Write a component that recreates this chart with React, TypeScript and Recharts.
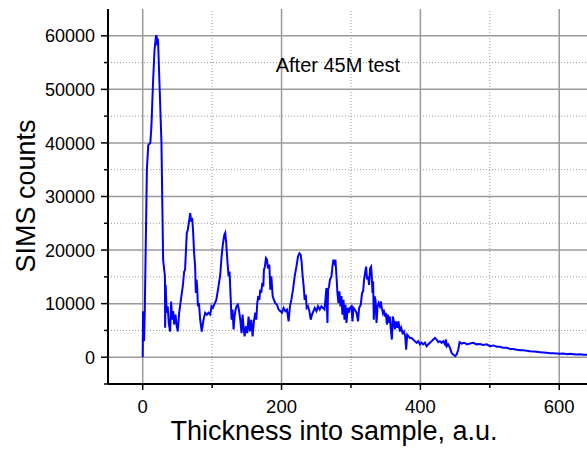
import React from 'react'
import { LineChart, Line, XAxis, YAxis, ReferenceLine } from 'recharts'

// depth profile (thickness a.u. -> SIMS counts)
const thickness = [
  0, 0.5, 2, 3, 6, 8, 11, 12.5, 15, 17, 19, 20, 21, 22, 24.5, 27, 29.4, 32, 32.3, 33,
  34.6, 36, 37.5, 39.5, 41, 42.4, 43.9, 45.3, 47.2, 49, 50.5, 52.5, 55, 57.7, 59.7, 61, 63.5, 65, 67, 68.4,
  69.8, 71.3, 72.7, 74, 75.5, 76.5, 77.5, 78.5, 79.5, 81, 82.8, 85, 87.6, 90, 92.4, 94.8, 97.3, 99.1, 101, 103,
  106, 108.8, 111.7, 113.6, 115.4, 117.5, 118.9, 120.3, 122.2, 123.7, 125.1, 126.6, 128, 129.4, 130.9, 132.3, 133.8, 135.2, 137, 138.5,
  140.5, 142.4, 143.9, 145.3, 146.8, 148.6, 150.6, 152.5, 154.4, 156.4, 158.3, 160.2, 162.2, 163.6, 165, 166.5, 168, 169.4, 170.8, 172.3,
  173.7, 174.6, 176, 177.5, 179, 180.4, 182.4, 183.8, 185.3, 187.2, 189, 191, 193.4, 195.8, 198.3, 200.6, 203, 205.5, 207.8, 210.2,
  212.1, 214.1, 216.5, 218.9, 221.4, 223.7, 225.7, 227.6, 229, 230.4, 231.9, 233.3, 234.8, 236.2, 238.1, 240.1, 242, 243.9, 245.9, 247.8,
  250.2, 252.5, 255, 257.4, 259.7, 261.8, 263.2, 264.6, 266.1, 267, 268.4, 269.8, 271.9, 273.3, 274.7, 276.2, 277.6, 279, 280.5, 282,
  283.4, 284.8, 286.3, 287.7, 289.2, 290.6, 292.1, 293.5, 295.4, 296.8, 298.3, 300.7, 302.2, 303.6, 305.5, 308, 310.2, 311.7, 314.1, 316,
  317.5, 318.9, 320.3, 321.8, 323.2, 324.7, 326.1, 327.6, 329, 330, 331, 331.9, 332.9, 333.9, 335.4, 336.8, 338.3, 339.7, 341.6, 343,
  344.4, 345.9, 347.3, 348.8, 350.2, 351.7, 353.1, 354.5, 356, 357.4, 358.9, 360.3, 361.8, 363.2, 364.7, 366.5, 368.5, 370.4, 372.3, 374.3,
  376.2, 378.1, 379.5, 381, 383, 384.9, 387.3, 389.6, 392, 394.5, 396.8, 399.3, 401.7, 404, 406.5, 409, 411.3, 413.7, 416.2, 418.5,
  421, 423.4, 425.7, 428.1, 430.6, 432.9, 435.4, 436.8, 438.2, 440.1, 442.6, 445, 447.3, 450.2, 452.2, 454.5, 456.5, 459.4, 463.2, 467.1,
  471.4, 476.2, 481, 485.9, 490.6, 495.5, 500.3, 505, 510, 514.7, 519.5, 524.4, 529.2, 534, 538.8, 543.6, 548.3, 553.2, 558, 562.8,
  567.7, 572.4, 577.2, 582.1, 586.9, 591.6, 596.5, 601.3, 606.1, 611, 615.7, 620.6, 625.4, 630.2, 635, 640,
]

const counts = [
  0, 8600, 3000, 8900, 35000, 39600, 40000, 43000, 51700, 57300, 59800, 60100, 58200, 59500, 49800, 40000, 18200, 15100, 5500, 13500,
  8300, 9500, 6400, 4800, 10400, 7000, 8600, 6100, 7950, 5800, 4800, 8300, 10700, 13200, 16000, 16300, 23200, 23800, 25600, 26900,
  25300, 26000, 23200, 19500, 17000, 12000, 14500, 13000, 9500, 10100, 7000, 4800, 7000, 8300, 7950, 8300, 7950, 9500, 9200, 9800,
  10700, 12900, 15400, 18800, 21000, 22800, 23200, 21300, 17600, 15100, 16000, 11400, 7000, 8900, 5200, 7600, 8900, 9500, 9800, 8900,
  7000, 4500, 7950, 5500, 3900, 5800, 4500, 7600, 4800, 7000, 3900, 6700, 8300, 7000, 10100, 11400, 10700, 12600, 12000, 13900,
  13200, 16300, 16900, 18500, 18200, 16600, 17300, 12600, 15100, 11400, 10700, 10100, 9800, 8900, 8600, 8300, 9200, 8600, 8900, 6700,
  9500, 10700, 12600, 15100, 16900, 18800, 19400, 19100, 17600, 15100, 13200, 10700, 11700, 9200, 9500, 8600, 7000, 7950, 8600, 9200,
  8600, 9500, 8900, 9500, 9200, 8900, 10700, 12900, 6400, 12600, 13200, 14500, 15100, 16900, 18200, 17600, 18200, 15400, 12000, 10100,
  12300, 9500, 11400, 7950, 10700, 7000, 9800, 6400, 9200, 8300, 9200, 9500, 6700, 9200, 8900, 8300, 6700, 9200, 9800, 12000,
  12300, 14500, 15700, 16900, 14500, 15100, 13500, 16600, 16900, 15100, 12000, 14200, 7000, 11400, 10700, 6400, 9500, 10100, 9500, 10400,
  9200, 8300, 8900, 7600, 8300, 6100, 7950, 6400, 7600, 5200, 3300, 7600, 6700, 5200, 6700, 5500, 6700, 4800, 5500, 4500,
  4800, 3900, 1400, 4200, 3900, 3600, 3600, 3300, 3000, 2700, 3000, 2400, 2700, 2400, 2700, 2050, 2400, 2700, 3000, 3300,
  3600, 3300, 2800, 3000, 2700, 3000, 2400, 3300, 2050, 2400, 1750, 800, 500, 200, 500, 1400, 2800, 2550, 2700, 2400,
  2550, 2700, 2400, 2450, 2300, 2400, 2050, 2200, 1950, 1950, 1750, 1750, 1550, 1550, 1400, 1300, 1300, 1200, 1100, 1050,
  1000, 930, 870, 820, 750, 750, 690, 630, 690, 560, 630, 560, 500, 560, 450, 450,
]

const xTicks = [0, 100, 200, 300, 400, 500, 600]
const xMajor = [0, 200, 400, 600]
const xMinor = [100, 300, 500]
const yTicks = [-5000, 0, 5000, 10000, 15000, 20000, 25000, 30000, 35000, 40000, 45000, 50000, 55000, 60000]
const yMajor = [0, 10000, 20000, 30000, 40000, 50000, 60000]
const yMinor = [5000, 15000, 25000, 35000, 45000, 55000]

const profile = thickness.map((x, i) => ({ x, y: counts[i] }))

const FONT = '"Liberation Sans", Arial, Helvetica, sans-serif'

function BottomTick({ x, y, payload }: any) {
  const major = payload.value % 200 === 0
  return (
    <g>
      <line x1={x} x2={x} y1={y} y2={y + (major ? 6 : 4)} stroke="#000" strokeWidth={1.5} />
      {major && (
        <text x={x} y={y + 28.5} textAnchor="middle" fontSize={18.5} fontFamily={FONT} fill="#000">
          {payload.value}
        </text>
      )}
    </g>
  )
}

function TopTick({ x, y, payload }: any) {
  const major = payload.value % 200 === 0
  return <line x1={x} x2={x} y1={y} y2={y + (major ? 6 : 4)} stroke="#000" strokeWidth={1.5} />
}

function LeftTick({ x, y, payload }: any) {
  const v = payload.value
  const major = v % 10000 === 0
  return (
    <g>
      <line x1={x - (major ? 7 : 4)} x2={x} y1={y} y2={y} stroke="#000" strokeWidth={1.5} />
      {major && (
        <text x={x - 13} y={y + 6.6} textAnchor="end" fontSize={18} fontFamily={FONT} fill="#000">
          {v}
        </text>
      )}
    </g>
  )
}

export default function App() {
  return (
    <div style={{ position: 'fixed', left: 0, top: 0, width: 587, height: 449, background: '#fff', overflow: 'hidden' }}>
      <LineChart width={587} height={449} data={profile} margin={{ top: 9, right: 0, bottom: 0, left: 0 }}>
        {xMajor.map(v => (
          <ReferenceLine key={'xM' + v} x={v} stroke="#9a9a9a" strokeWidth={1.5} />
        ))}
        {xMinor.map(v => (
          <ReferenceLine key={'xm' + v} x={v} stroke="#999" strokeWidth={1} strokeDasharray="1 2" />
        ))}
        {yMajor.map(v => (
          <ReferenceLine key={'yM' + v} y={v} stroke="#9a9a9a" strokeWidth={1.5} />
        ))}
        {yMinor.map(v => (
          <ReferenceLine key={'ym' + v} y={v} stroke="#999" strokeWidth={1} strokeDasharray="1 2" />
        ))}
        <XAxis
          dataKey="x"
          type="number"
          domain={[-50, 640]}
          allowDataOverflow
          ticks={xTicks}
          interval={0}
          height={65}
          tickSize={0}
          tickMargin={0}
          tickLine={false}
          tick={(p: any) => <BottomTick {...p} />}
          axisLine={{ stroke: '#000', strokeWidth: 2 }}
        />
        <XAxis
          xAxisId="top"
          orientation="top"
          dataKey="x"
          type="number"
          domain={[-50, 640]}
          allowDataOverflow
          ticks={xTicks}
          interval={0}
          height={0}
          tickSize={0}
          tickMargin={0}
          tickLine={false}
          tick={(p: any) => <TopTick {...p} />}
          axisLine={{ stroke: '#000', strokeWidth: 2 }}
        />
        <YAxis
          type="number"
          domain={[-5000, 65000]}
          allowDataOverflow
          ticks={yTicks}
          interval={0}
          width={108}
          tickSize={0}
          tickMargin={0}
          tickLine={false}
          tick={(p: any) => <LeftTick {...p} />}
          axisLine={{ stroke: '#000', strokeWidth: 2 }}
        />
        <Line
          type="linear"
          dataKey="y"
          stroke="#0000ff"
          strokeWidth={2}
          dot={false}
          isAnimationActive={false}
        />
      </LineChart>
      <svg width={587} height={449} style={{ position: 'absolute', left: 0, top: 0, pointerEvents: 'none' }}>
        <text x={275.7} y={72.3} fontSize={20} fontFamily={FONT} fill="#000">After 45M test</text>
        <text x={334} y={440} textAnchor="middle" fontSize={27} fontFamily={FONT} fill="#000">
          Thickness into sample, a.u.
        </text>
        <text
          x={34.5}
          y={196}
          textAnchor="middle"
          fontSize={27}
          fontFamily={FONT}
          fill="#000"
          transform="rotate(-90, 34.5, 196)"
        >
          SIMS counts
        </text>
      </svg>
    </div>
  )
}
